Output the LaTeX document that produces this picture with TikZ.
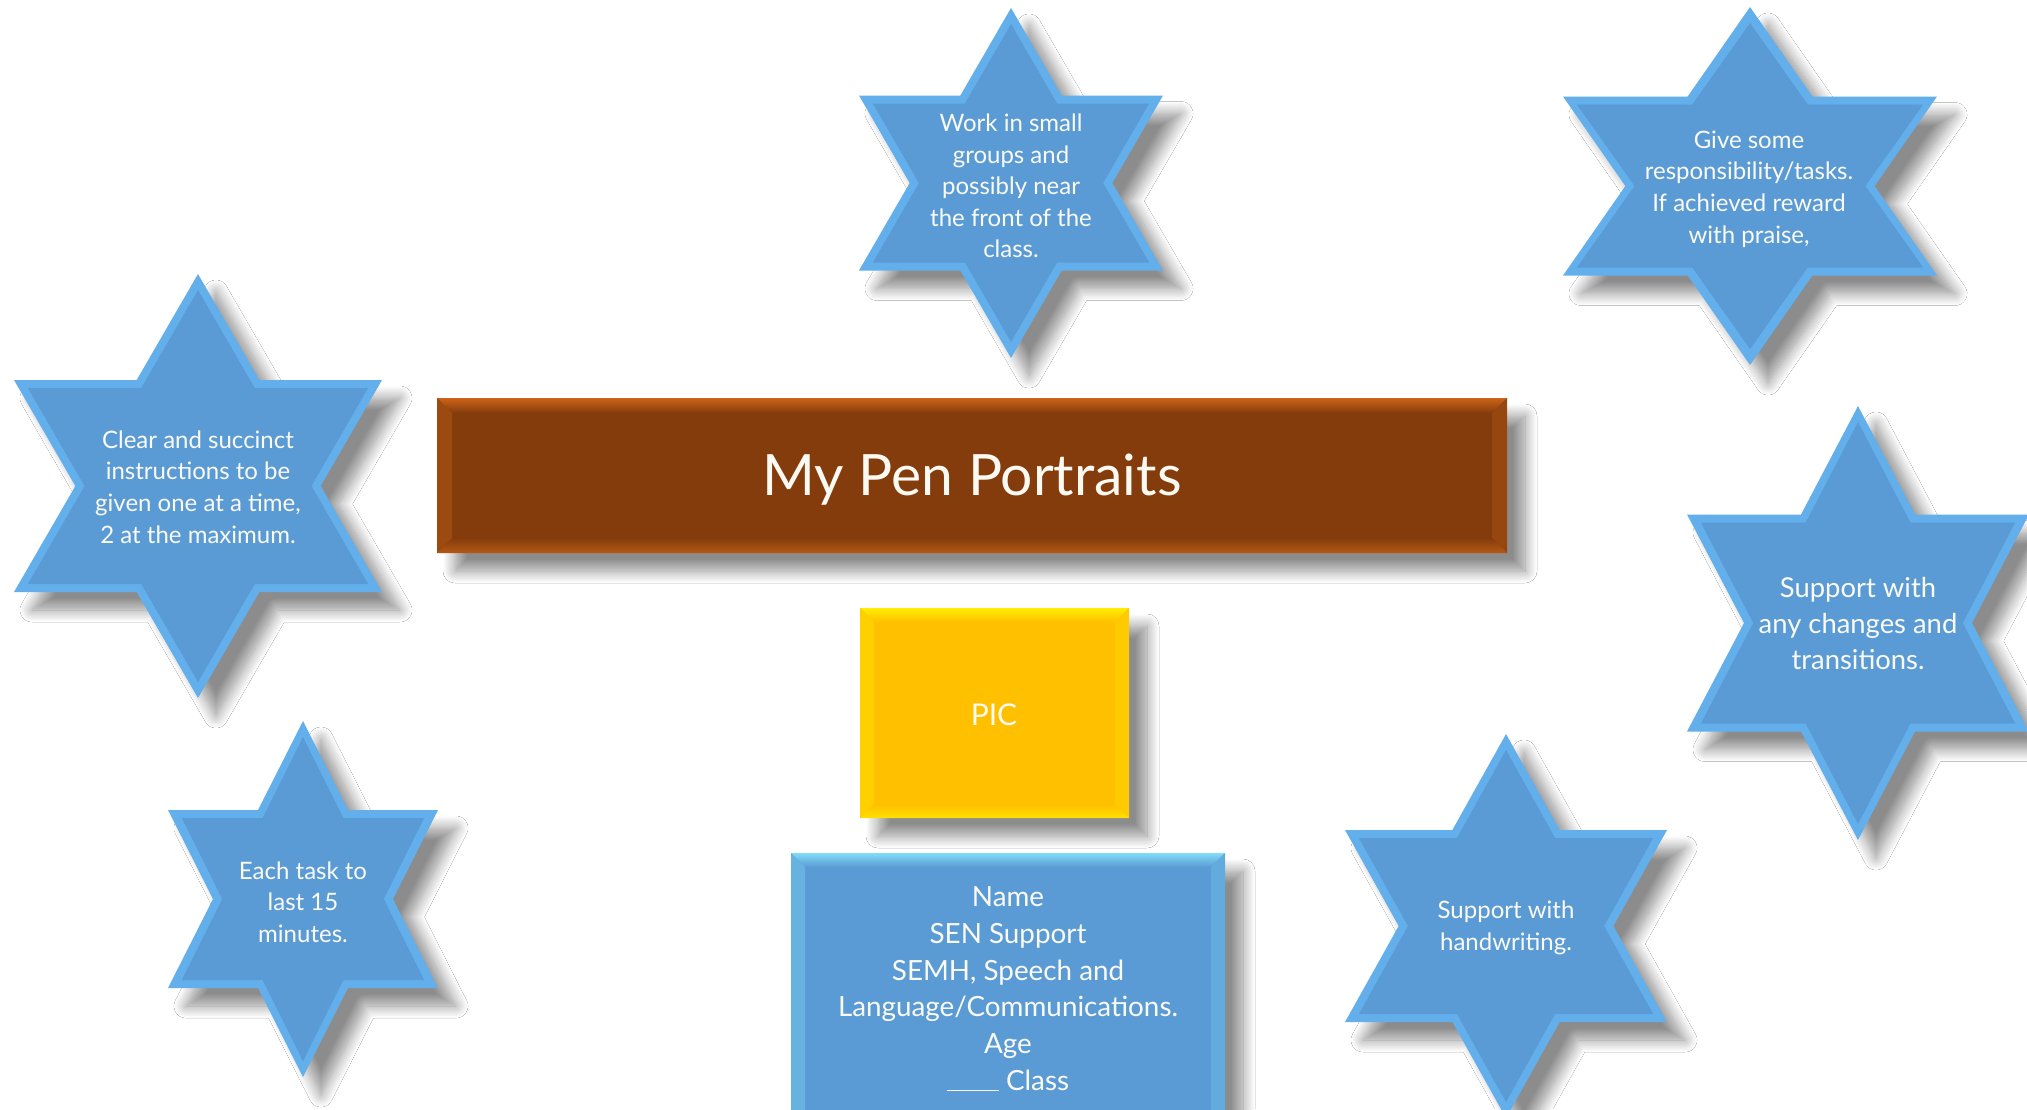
\documentclass[tikz,border=0pt]{standalone}
\usepackage{fontspec}
\setmainfont{Lato}
\usetikzlibrary{shadows.blur}
\definecolor{starblue}{HTML}{5B9BD5}
\definecolor{starlight}{HTML}{62AFEC}
\definecolor{titlebrown}{HTML}{843C0C}
\definecolor{titleedge}{HTML}{CC6418}
\definecolor{picgold}{HTML}{FFC000}
\definecolor{picedge}{HTML}{FFEE00}
\definecolor{infoedge}{HTML}{80DDF6}
\definecolor{txt}{HTML}{FAFAF2}

% cx cy halfwidth halfheight inset
\newcommand\hexpath[5]{({#1},{#2-#4+2*#5}) -- ({#1+#3/3-0.577*#5},{#2-#4/2+#5}) -- ({#1+#3-1.732*#5},{#2-#4/2+#5}) -- ({#1+2*#3/3-1.155*#5},{#2}) -- ({#1+#3-1.732*#5},{#2+#4/2-#5}) -- ({#1+#3/3-0.577*#5},{#2+#4/2-#5}) -- ({#1},{#2+#4-2*#5}) -- ({#1-#3/3+0.577*#5},{#2+#4/2-#5}) -- ({#1-#3+1.732*#5},{#2+#4/2-#5}) -- ({#1-2*#3/3+1.155*#5},{#2}) -- ({#1-#3+1.732*#5},{#2-#4/2+#5}) -- ({#1-#3/3+0.577*#5},{#2-#4/2+#5}) -- cycle}

\newcommand\hexstar[4]{%
  \path[fill=starlight, shadowed] \hexpath{#1}{#2}{#3}{#4}{0};
  \path[fill=starblue] \hexpath{#1}{#2}{#3}{#4}{8};
}

% x1 y1 x2 y2 d main light
\newcommand\bevelrect[7]{%
  \path[fill=#6, shadowed] (#1,#2) rectangle (#3,#4);
  \path[top color=#7, bottom color=#6] (#1,#2) -- (#3,#2) -- ({#3-#5},{#2+#5}) -- ({#1+#5},{#2+#5}) -- cycle;
  \path[fill=#7!35!#6] (#1,#2) -- ({#1+#5},{#2+#5}) -- ({#1+#5},{#4-#5}) -- (#1,#4) -- cycle;
  \path[fill=#7!25!#6] (#3,#2) -- ({#3-#5},{#2+#5}) -- ({#3-#5},{#4-#5}) -- (#3,#4) -- cycle;
  \path[top color=#6, bottom color=#7!70!#6] ({#1+#5},{#4-#5}) -- ({#3-#5},{#4-#5}) -- (#3,#4) -- (#1,#4) -- cycle;
}

\tikzset{
  shadowed/.style={blur shadow={shadow xshift=9pt, shadow yshift=-9pt, shadow blur radius=6pt, shadow blur steps=16, shadow opacity=45}},
  startext/.style={text=txt, align=center, font=\fontsize{12}{15.8}\selectfont},
  bigstartext/.style={text=txt, align=center, font=\fontsize{13.7}{18}\selectfont},
}

\begin{document}
\begin{tikzpicture}[x=0.5pt,y=-0.5pt]
\useasboundingbox[fill=white] (0,0) rectangle (2027,1109);
\clip (0,0) rectangle (2027,1109);

% stars
\hexstar{1011}{183}{152}{175}
\hexstar{1750}{186}{187}{179}
\hexstar{198}{486}{184}{212}
\hexstar{303}{899}{135}{178}
\hexstar{1858}{623}{171}{217}
\hexstar{1506}{926}{161}{192}

% rectangles
\bevelrect{437}{398}{1507}{553}{15}{titlebrown}{titleedge}
\bevelrect{860}{608}{1129}{818}{14}{picgold}{picedge}
\bevelrect{791}{853}{1225}{1140}{14}{starblue}{infoedge}

% texts
\node[startext] (workgroups) at (1011,186) {Work in small\\groups and\\possibly near\\the front of the\\class.};
\node[startext] (responsibility) at (1749,189) {Give some\\responsibility/tasks.\\If achieved reward\\with praise,};
\node[startext] (instructions) at (198,487) {Clear and succinct\\instructions to be\\given one at a time,\\2 at the maximum.};
\node[startext] (tasktime) at (303,902) {Each task to\\last 15\\minutes.};
\node[bigstartext] (transitions) at (1858,624) {Support with\\any changes and\\transitions.};
\node[startext] (handwriting) at (1506,928) {Support with\\handwriting.};

\node[text=txt, font=\fontsize{28.5}{34}\selectfont] (title) at (972,480) {My Pen Portraits};
\node[text=txt, font=\fontsize{15}{18}\selectfont] (pic) at (994,715) {PIC};
\node[text=txt, align=center, font=\fontsize{13.9}{18.4}\selectfont] (info) at (1008,989)
  {Name\\SEN Support\\SEMH, Speech and\\Language/Communications.\\Age\\\rule[-0.5pt]{26pt}{0.7pt} Class};
\end{tikzpicture}
\end{document}
